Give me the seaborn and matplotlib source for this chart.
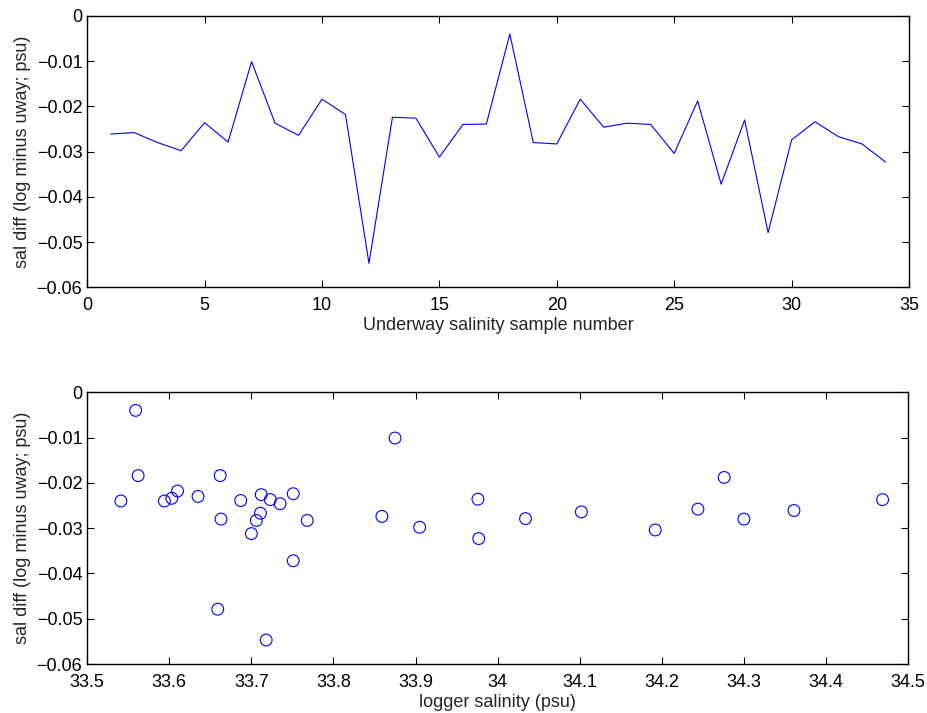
import matplotlib
matplotlib.use("Agg")
import matplotlib.pyplot as plt
from matplotlib.ticker import FuncFormatter
import seaborn as sns
import pandas as pd

sample_number = list(range(1, 35))
sal_diff = [-0.0261, -0.0258, -0.0280, -0.0298, -0.0236, -0.0279, -0.0101, -0.0237,
            -0.0264, -0.0184, -0.0218, -0.0547, -0.0224, -0.0226, -0.0312, -0.0240,
            -0.0239, -0.0040, -0.0280, -0.0283, -0.0184, -0.0246, -0.0237, -0.0240,
            -0.0304, -0.0188, -0.0372, -0.0230, -0.0479, -0.0274, -0.0234, -0.0267,
            -0.0283, -0.0323]
logger_salinity = [34.361, 34.244, 34.300, 33.905, 33.976, 34.034, 33.875, 34.469,
                   34.102, 33.562, 33.610, 33.718, 33.751, 33.712, 33.700, 33.541,
                   33.687, 33.559, 33.663, 33.768, 33.662, 33.735, 33.723, 33.594,
                   34.192, 34.276, 33.751, 33.635, 33.659, 33.859, 33.603, 33.711,
                   33.706, 33.977]

top_xticks = [0, 5, 10, 15, 20, 25, 30, 35]
bottom_xticks = [33.5, 33.6, 33.7, 33.8, 33.9, 34.0, 34.1, 34.2, 34.3, 34.4, 34.5]
yticks = [-0.06, -0.05, -0.04, -0.03, -0.02, -0.01, 0]

df = pd.DataFrame({"n": sample_number, "diff": sal_diff, "sal": logger_salinity})

sns.set_style("ticks")
plt.rcParams["font.family"] = ["Liberation Sans", "DejaVu Sans"]
plt.rcParams["axes.unicode_minus"] = True

fig = plt.figure(figsize=(9.28, 7.13), dpi=100)
ax1 = fig.add_axes([0.0940, 0.5971, 0.8855, 0.3805])
ax2 = fig.add_axes([0.0940, 0.0687, 0.8845, 0.3811])

sns.lineplot(data=df, x="n", y="diff", ax=ax1, color="#0000ff", linewidth=0.8)
sns.scatterplot(data=df, x="sal", y="diff", ax=ax2, marker="o", s=72,
                facecolor="none", edgecolor="#0000ff", linewidth=0.8)

fmt = FuncFormatter(lambda v, p: ("%g" % round(v, 6)).replace("-", "\u2212"))

for ax, xt in ((ax1, top_xticks), (ax2, bottom_xticks)):
    ax.set_xlim(xt[0], xt[-1])
    ax.set_ylim(-0.06, 0)
    ax.set_xticks(xt)
    ax.set_yticks(yticks)
    ax.xaxis.set_major_formatter(fmt)
    ax.yaxis.set_major_formatter(fmt)
    ax.tick_params(direction="in", top=True, right=True, length=5, width=0.8,
                   labelsize=13, colors="black")
    ax.tick_params(axis="x", pad=7)
    for s in ax.spines.values():
        s.set_visible(True)
        s.set_linewidth(1.0)
        s.set_color("black")
    ax.set_ylabel("sal diff (log minus uway; psu)", fontsize=13, labelpad=4)

ax1.set_xlabel("Underway salinity sample number", fontsize=13, labelpad=2)
ax2.set_xlabel("logger salinity (psu)", fontsize=13, labelpad=2)

fig.savefig("out.png", dpi=100)
